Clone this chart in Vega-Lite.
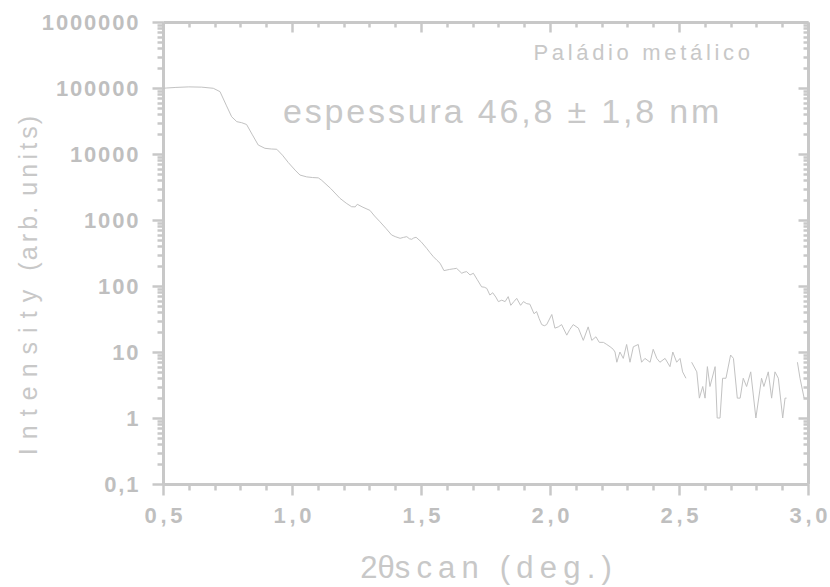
{
  "$schema": "https://vega.github.io/schema/vega-lite/v6.json",
  "autosize": {"type": "none"},
  "padding": {"left": 163, "top": 22, "right": 22, "bottom": 103},
  "width": 645,
  "height": 462,
  "background": "white",
  "config": {"view": {"stroke": null}, "font": "Liberation Sans"},
  "resolve": {"axis": {"x": "independent", "y": "independent"}},
  "layer": [
    {
      "data": {
        "values": [
          {"x": 0.50, "y": 99000}, {"x": 0.514, "y": 100000}, {"x": 0.55, "y": 102000}, {"x": 0.60, "y": 104000},
          {"x": 0.65, "y": 103000}, {"x": 0.695, "y": 99000}, {"x": 0.721, "y": 88000}, {"x": 0.745, "y": 55000},
          {"x": 0.766, "y": 36700}, {"x": 0.786, "y": 30900}, {"x": 0.805, "y": 29800}, {"x": 0.824, "y": 28000},
          {"x": 0.845, "y": 20000}, {"x": 0.869, "y": 13700}, {"x": 0.895, "y": 12200}, {"x": 0.92, "y": 11900},
          {"x": 0.941, "y": 11800}, {"x": 0.963, "y": 9600}, {"x": 0.986, "y": 7400}, {"x": 1.012, "y": 5700},
          {"x": 1.031, "y": 4800}, {"x": 1.057, "y": 4500}, {"x": 1.08, "y": 4400}, {"x": 1.102, "y": 4350},
          {"x": 1.115, "y": 4000}, {"x": 1.15, "y": 3000}, {"x": 1.186, "y": 2130}, {"x": 1.21, "y": 1800},
          {"x": 1.231, "y": 1590}, {"x": 1.245, "y": 1580}, {"x": 1.253, "y": 1730}, {"x": 1.275, "y": 1560},
          {"x": 1.302, "y": 1400}, {"x": 1.32, "y": 1150}, {"x": 1.341, "y": 940}, {"x": 1.365, "y": 740},
          {"x": 1.386, "y": 593}, {"x": 1.40, "y": 560}, {"x": 1.419, "y": 528}, {"x": 1.432, "y": 545},
          {"x": 1.445, "y": 559}, {"x": 1.455, "y": 520}, {"x": 1.464, "y": 510}, {"x": 1.472, "y": 535},
          {"x": 1.481, "y": 547}, {"x": 1.50, "y": 470}, {"x": 1.522, "y": 372}, {"x": 1.535, "y": 320},
          {"x": 1.548, "y": 278}, {"x": 1.562, "y": 245}, {"x": 1.574, "y": 221}, {"x": 1.589, "y": 171},
          {"x": 1.61, "y": 178}, {"x": 1.625, "y": 182}, {"x": 1.638, "y": 185}, {"x": 1.658, "y": 156},
          {"x": 1.667, "y": 162}, {"x": 1.677, "y": 165}, {"x": 1.69, "y": 147}, {"x": 1.703, "y": 156},
          {"x": 1.718, "y": 125}, {"x": 1.735, "y": 97}, {"x": 1.745, "y": 96}, {"x": 1.755, "y": 92},
          {"x": 1.767, "y": 73}, {"x": 1.778, "y": 79}, {"x": 1.79, "y": 68}, {"x": 1.80, "y": 58},
          {"x": 1.813, "y": 61}, {"x": 1.826, "y": 58}, {"x": 1.838, "y": 69}, {"x": 1.848, "y": 51},
          {"x": 1.86, "y": 58}, {"x": 1.871, "y": 65}, {"x": 1.886, "y": 51}, {"x": 1.897, "y": 58},
          {"x": 1.91, "y": 54}, {"x": 1.922, "y": 53}, {"x": 1.938, "y": 38}, {"x": 1.948, "y": 41},
          {"x": 1.958, "y": 32}, {"x": 1.968, "y": 26}, {"x": 1.978, "y": 25}, {"x": 1.987, "y": 26},
          {"x": 2.007, "y": 37}, {"x": 2.019, "y": 23}, {"x": 2.032, "y": 24}, {"x": 2.045, "y": 26},
          {"x": 2.065, "y": 18}, {"x": 2.077, "y": 22}, {"x": 2.09, "y": 26}, {"x": 2.11, "y": 23},
          {"x": 2.129, "y": 15}, {"x": 2.148, "y": 24}, {"x": 2.162, "y": 15}, {"x": 2.178, "y": 17},
          {"x": 2.191, "y": 14}, {"x": 2.207, "y": 14}, {"x": 2.22, "y": 13}, {"x": 2.233, "y": 12},
          {"x": 2.245, "y": 11}, {"x": 2.252, "y": 10}, {"x": 2.259, "y": 7}, {"x": 2.271, "y": 10},
          {"x": 2.284, "y": 8}, {"x": 2.297, "y": 13}, {"x": 2.31, "y": 7}, {"x": 2.323, "y": 12},
          {"x": 2.342, "y": 13}, {"x": 2.355, "y": 7}, {"x": 2.368, "y": 8}, {"x": 2.388, "y": 7},
          {"x": 2.40, "y": 11}, {"x": 2.414, "y": 8}, {"x": 2.426, "y": 7}, {"x": 2.446, "y": 8},
          {"x": 2.465, "y": 6}, {"x": 2.476, "y": 10}, {"x": 2.491, "y": 7}, {"x": 2.504, "y": 8},
          {"x": 2.514, "y": 5}, {"x": 2.527, "y": 4}, {"x": 2.538, "y": null}, {"x": 2.549, "y": 7},
          {"x": 2.569, "y": 5}, {"x": 2.579, "y": 2}, {"x": 2.592, "y": 3}, {"x": 2.601, "y": 2},
          {"x": 2.61, "y": 6}, {"x": 2.62, "y": 3}, {"x": 2.64, "y": 6}, {"x": 2.648, "y": 1},
          {"x": 2.659, "y": 1}, {"x": 2.669, "y": 4}, {"x": 2.682, "y": 4}, {"x": 2.70, "y": 9},
          {"x": 2.711, "y": 8}, {"x": 2.726, "y": 2}, {"x": 2.737, "y": 2}, {"x": 2.749, "y": 4},
          {"x": 2.762, "y": 3}, {"x": 2.778, "y": 5}, {"x": 2.798, "y": 1}, {"x": 2.82, "y": 4},
          {"x": 2.829, "y": 3}, {"x": 2.846, "y": 5}, {"x": 2.859, "y": 2}, {"x": 2.872, "y": 5},
          {"x": 2.885, "y": 4}, {"x": 2.902, "y": 1}, {"x": 2.911, "y": 2}, {"x": 2.917, "y": 2},
          {"x": 2.935, "y": null}, {"x": 2.959, "y": 7}, {"x": 2.969, "y": 4}, {"x": 2.985, "y": 2}
        ]
      },
      "mark": {"type": "line", "color": "#c2c2c2", "strokeWidth": 1, "invalid": "break-paths-filter-domains"},
      "encoding": {
        "x": {
          "field": "x", "type": "quantitative",
          "scale": {"domain": [0.5, 3.0], "nice": false, "zero": false},
          "axis": {
            "orient": "bottom",
            "values": [0.5,0.6,0.7,0.8,0.9,1.0,1.1,1.2,1.3,1.4,1.5,1.6,1.7,1.8,1.9,2.0,2.1,2.2,2.3,2.4,2.5,2.6,2.7,2.8,2.9,3.0],
            "grid": false,
            "domainColor": "#c8c8c8", "domainWidth": 3,
            "tickColor": "#c8c8c8", "tickWidth": 2.5,
            "tickSize": {"condition": {"test": "abs(datum.value*2 - round(datum.value*2)) < 0.001", "value": 11}, "value": 6},
            "labelExpr": "abs(datum.value*2 - round(datum.value*2)) < 0.001 ? join(split(replace(format(datum.value, '.1f'), '.', ','), ''), '\u200a\u200a') : ''",
            "labelFont": "Liberation Sans", "labelFontSize": 22, "labelFontWeight": "bold", "labelColor": "#bfbfbf",
            "labelPadding": 10, "labelFlush": false, "labelOverlap": false,
            "title": "2θs\u2009c\u2009a\u2009n\u2009 \u2009(\u2009d\u2009e\u2009g\u2009.\u2009)",
            "titleFont": "Liberation Sans", "titleFontSize": 31, "titleFontWeight": "normal", "titleColor": "#c8c8c8",
            "titleBaseline": "alphabetic", "titleY": 93
          }
        },
        "y": {
          "field": "y", "type": "quantitative",
          "scale": {"type": "log", "domain": [0.1, 1000000], "nice": false},
          "axis": {
            "orient": "left",
            "values": [0.1,0.2,0.3,0.4,0.5,0.6,0.7,0.8,0.9,1,2,3,4,5,6,7,8,9,10,20,30,40,50,60,70,80,90,100,200,300,400,500,600,700,800,900,1000,2000,3000,4000,5000,6000,7000,8000,9000,10000,20000,30000,40000,50000,60000,70000,80000,90000,100000,200000,300000,400000,500000,600000,700000,800000,900000,1000000],
            "grid": false,
            "domainColor": "#c8c8c8", "domainWidth": 3,
            "tickColor": "#c8c8c8", "tickWidth": 2.5,
            "tickSize": {"condition": {"test": "abs(log(datum.value)/LN10 - round(log(datum.value)/LN10)) < 0.001", "value": 11}, "value": 6},
            "labelExpr": "abs(log(datum.value)/LN10 - round(log(datum.value)/LN10)) < 0.001 ? join(split(datum.value < 1 ? '0,1' : format(datum.value, 'd'), ''), '\u200a') : ''",
            "labelFont": "Liberation Sans", "labelFontSize": 22, "labelFontWeight": "bold", "labelColor": "#bfbfbf",
            "labelPadding": 14, "labelOverlap": false, "labelFlush": false,
            "title": "I \u200an \u200at \u200ae \u200an \u200as \u200ai \u200at \u200ay  \u2009\u2009\u200a(\u200aa\u200a\u200ar\u200a\u200ab\u200a.\u200a \u200au\u200a\u200an\u200a\u200ai\u200a\u200at\u200a\u200as\u200a)",
            "titleFont": "Liberation Sans", "titleFontSize": 25, "titleFontWeight": "normal", "titleColor": "#c8c8c8",
            "titleBaseline": "alphabetic", "titleAlign": "center", "titleX": -127, "titleY": 263
          }
        }
      }
    },
    {
      "data": {"values": [{"label": "Paládio metálico"}]},
      "mark": {"type": "text", "align": "right", "baseline": "alphabetic", "font": "Liberation Sans", "fontSize": 22, "color": "#c8c8c8"},
      "encoding": {
        "text": {"value": "P\u200a\u200aa\u200a\u200al\u200a\u200aá\u200a\u200ad\u200a\u200ai\u200a\u200ao\u200a\u200a \u200a\u200am\u200a\u200ae\u200a\u200at\u200a\u200aá\u200a\u200al\u200a\u200ai\u200a\u200ac\u200a\u200ao"},
        "x": {
          "datum": 2.775, "type": "quantitative",
          "axis": {
            "orient": "top",
            "values": [0.5,0.6,0.7,0.8,0.9,1.0,1.1,1.2,1.3,1.4,1.5,1.6,1.7,1.8,1.9,2.0,2.1,2.2,2.3,2.4,2.5,2.6,2.7,2.8,2.9,3.0],
            "grid": false, "labels": false, "title": null,
            "domainColor": "#c8c8c8", "domainWidth": 3,
            "tickColor": "#c8c8c8", "tickWidth": 2.5,
            "tickSize": {"condition": {"test": "abs(datum.value*2 - round(datum.value*2)) < 0.001", "value": -10}, "value": -5}
          }
        },
        "y": {
          "datum": 265000, "type": "quantitative",
          "axis": {
            "orient": "right",
            "values": [0.1,0.2,0.3,0.4,0.5,0.6,0.7,0.8,0.9,1,2,3,4,5,6,7,8,9,10,20,30,40,50,60,70,80,90,100,200,300,400,500,600,700,800,900,1000,2000,3000,4000,5000,6000,7000,8000,9000,10000,20000,30000,40000,50000,60000,70000,80000,90000,100000,200000,300000,400000,500000,600000,700000,800000,900000,1000000],
            "grid": false, "labels": false, "title": null,
            "domainColor": "#c8c8c8", "domainWidth": 3,
            "tickColor": "#c8c8c8", "tickWidth": 2.5,
            "tickSize": {"condition": {"test": "abs(log(datum.value)/LN10 - round(log(datum.value)/LN10)) < 0.001", "value": -10}, "value": -5}
          }
        }
      }
    },
    {
      "data": {"values": [{"label": "espessura 46,8 ± 1,8 nm"}]},
      "mark": {"type": "text", "align": "left", "baseline": "alphabetic", "font": "Liberation Sans", "fontSize": 34, "color": "#c8c8c8"},
      "encoding": {
        "text": {"value": "e\u200as\u200ap\u200ae\u200as\u200as\u200au\u200ar\u200aa\u200a \u200a4\u200a6\u200a,\u200a8\u200a \u200a±\u200a \u200a1\u200a,\u200a8\u200a \u200an\u200am"},
        "x": {"datum": 0.965, "type": "quantitative", "axis": null},
        "y": {"datum": 29500, "type": "quantitative", "axis": null}
      }
    }
  ]
}
